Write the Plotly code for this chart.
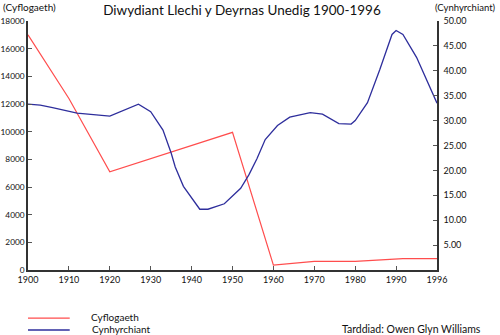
import plotly.graph_objects as go

# ---- data ----
emp_years = [1900, 1910, 1920, 1950, 1960, 1970, 1980, 1991, 1996]
emp_values = [17000, 12400, 7100, 9950, 350, 630, 630, 820, 820]

prod_years = [1900, 1903, 1906, 1912, 1920, 1927, 1930, 1933, 1935, 1936, 1938,
              1940, 1942, 1944, 1948, 1952, 1954, 1956, 1958, 1961, 1964, 1969,
              1972, 1976, 1979, 1980, 1983, 1986, 1989, 1990, 1991, 1993, 1996]
prod_values = [33.3, 33.1, 32.6, 31.5, 30.9, 33.3, 31.8, 28.1, 23.5, 20.7, 16.8,
               14.4, 12.2, 12.2, 13.3, 16.4, 19.1, 22.4, 26.2, 29.0, 30.7, 31.6,
               31.3, 29.4, 29.3, 30.0, 33.6, 40.2, 47.3, 48.1, 47.3, 42.7, 33.5]

x_tick_years = [1900, 1910, 1920, 1930, 1940, 1950, 1960, 1970, 1980, 1990, 1996]
left_ticks = list(range(0, 18001, 2000))
right_ticks = [5, 10, 15, 20, 25, 30, 35, 40, 45, 50]

RED = "#ff4d4d"
BLUE = "#2e2e9c"
FONT = "Lato"


# The original axis places the last label (1996) where 2000 would fall:
# the final segment 1990-1996 is stretched over one full decade.
def axis_pos(year):
    return year if year <= 1990 else 1990 + (year - 1990) * 10 / 6


fig = go.Figure()
fig.add_trace(go.Scatter(x=[axis_pos(y) for y in emp_years], y=emp_values,
                         mode="lines", line=dict(color=RED, width=1.2),
                         name="Cyflogaeth", yaxis="y"))
fig.add_trace(go.Scatter(x=[axis_pos(y) for y in prod_years], y=prod_values,
                         mode="lines", line=dict(color=BLUE, width=1.3),
                         name="Cynhyrchiant", yaxis="y2"))

axis_common = dict(showgrid=False, zeroline=False, showline=True,
                   linecolor="#333333", linewidth=1.5, ticks="inside",
                   ticklen=4, tickcolor="#555555", automargin=False)

fig.update_layout(
    width=500, height=335,
    margin=dict(l=28, r=63, t=21, b=65),
    paper_bgcolor="white", plot_bgcolor="white",
    showlegend=False,
    title=dict(text="Diwydiant Llechi y Deyrnas Unedig 1900-1996",
               x=0.484, xanchor="center", y=0.968, yanchor="middle",
               font=dict(family=FONT, size=13.5, color="#111111")),
    xaxis=dict(range=[1900, 2000],
               tickvals=[axis_pos(y) for y in x_tick_years],
               ticktext=[str(y) for y in x_tick_years],
               tickfont=dict(family=FONT, size=9, color="#111111"),
               **axis_common),
    yaxis=dict(range=[0, 18000], tickvals=left_ticks,
               ticktext=[str(v) for v in left_ticks], ticklabelstandoff=0,
               tickfont=dict(family=FONT, size=8.3, color="#111111"),
               **axis_common),
    yaxis2=dict(range=[0, 50], overlaying="y", side="right",
                tickvals=right_ticks,
                ticktext=[f"{v:.2f}" for v in right_ticks], ticklabelstandoff=3,
                tickfont=dict(family=FONT, size=9, color="#111111"),
                **axis_common),
)

ann_font = dict(family=FONT, size=10, color="#111111")
fig.add_annotation(text="(Cyflogaeth)", xref="paper", yref="paper",
                   x=-0.065, y=1.056, xanchor="left", yanchor="middle",
                   showarrow=False, font=ann_font)
fig.add_annotation(text="(Cynhyrchiant)", xref="paper", yref="paper",
                   x=1.148, y=1.056, xanchor="right", yanchor="middle",
                   showarrow=False, font=dict(family=FONT, size=9.5, color="#111111"))

# custom legend
fig.add_shape(type="line", xref="paper", yref="paper",
              x0=0.0, x1=0.102, y0=-0.193, y1=-0.193,
              line=dict(color=RED, width=1.2))
fig.add_shape(type="line", xref="paper", yref="paper",
              x0=0.0, x1=0.102, y0=-0.241, y1=-0.241,
              line=dict(color=BLUE, width=1.3))
fig.add_annotation(text="Cyflogaeth", xref="paper", yref="paper",
                   x=0.150, y=-0.187, xanchor="left", yanchor="middle",
                   showarrow=False, font=ann_font)
fig.add_annotation(text="Cynhyrchiant", xref="paper", yref="paper",
                   x=0.152, y=-0.236, xanchor="left", yanchor="middle",
                   showarrow=False, font=ann_font)
fig.add_annotation(text="Tarddiad: Owen Glyn Williams", xref="paper", yref="paper",
                   x=0.762, y=-0.236, xanchor="left", yanchor="middle",
                   showarrow=False, font=dict(family=FONT, size=10.5, color="#111111"))

fig.write_html("out.html")
